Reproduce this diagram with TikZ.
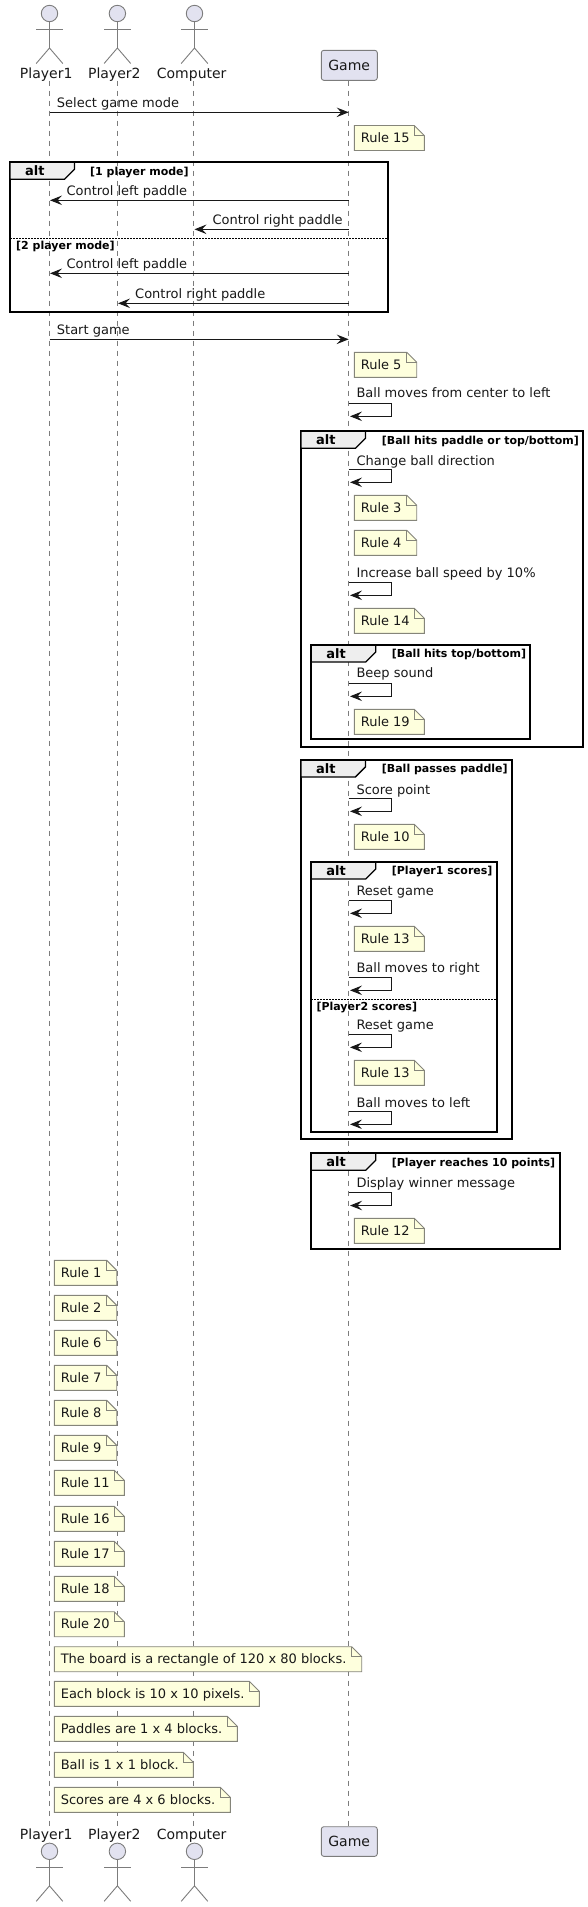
\documentclass[tikz,border=0pt]{standalone}
\usepackage{fontspec}
\setmainfont{DejaVu Sans}
\usetikzlibrary{arrows.meta}
\definecolor{ink}{HTML}{181818}
\definecolor{thinline}{HTML}{7C7C7C}
\definecolor{notefill}{HTML}{FEFFDD}
\definecolor{notedge}{HTML}{85857A}
\definecolor{partfill}{HTML}{E2E2F0}
\definecolor{tabfill}{HTML}{EEEEEE}
\tikzset{
  lifeline/.style={draw=thinline,line width=0.8pt,dash pattern=on 5pt off 5pt},
  msgline/.style={draw=ink,line width=1pt,-{Stealth[length=12pt,width=9.5pt,inset=4.5pt,color=ink]}},
  msgtext/.style={anchor=base west,inner sep=0pt,text=ink,font=\fontsize{13}{15}\selectfont},
  notetext/.style={anchor=base west,inner sep=0pt,text=ink,font=\fontsize{13}{15}\selectfont},
  noteshape/.style={draw=notedge,line width=0.9pt,fill=notefill},
  foldline/.style={draw=notedge,line width=0.9pt},
  actorline/.style={draw=thinline,line width=0.9pt},
  actorhead/.style={draw=thinline,line width=0.9pt,fill=partfill},
  actorname/.style={anchor=base,inner sep=0pt,text=ink,font=\fontsize{14}{16}\selectfont},
  partbox/.style={draw=thinline,line width=0.9pt,fill=partfill,rounded corners=2.5pt},
  framebox/.style={draw=black,line width=1.8pt},
  tabshape/.style={draw=black,line width=1.3pt,fill=tabfill},
  dividerline/.style={draw=black,line width=1pt,dash pattern=on 1.5pt off 1.5pt},
  alttext/.style={anchor=base,inner sep=0pt,text=black,font=\bfseries\fontsize{13}{15}\selectfont},
  guardtext/.style={anchor=base west,inner sep=0pt,text=black,font=\bfseries\fontsize{11}{13}\selectfont},
}
\newcommand\msgarrow[6]{%
  \coordinate (#1s) at (#2,#4);
  \coordinate (#1e) at (#3,#4);
  \draw[msgline] (#1s) -- (#1e);
  \node[msgtext,name=#1t] at (#5,#4-4.8) {#6};
}
% name, top y, text baseline y, text
\newcommand\selfmsg[4]{%
  \coordinate (#1s) at (348.7,#2);
  \coordinate (#1e) at (350,#2+13);
  \draw[msgline] (#1s) -- (391.3,#2) -- (391.3,#2+13) -- (#1e);
  \node[msgtext,name=#1t] at (356.3,#3) {#4};
}
\newcommand\rulenote[5]{%
  \draw[noteshape] (#2,#3) -- (#4-10,#3) -- (#4,#3+10) -- (#4,#3+25) -- (#2,#3+25) -- cycle;
  \draw[foldline] (#4-10,#3) -- (#4-10,#3+10) -- (#4,#3+10);
  \node[notetext,name=#1] at (#2+6.3,#3+16.7) {#5};
}
\newcommand\altframe[7]{%
  \draw[framebox] (#2,#3) rectangle (#4,#5);
  \draw[tabshape] (#2,#3) -- (#2+64.4,#3) -- (#2+64.4,#3+7) -- (#2+54.4,#3+17) -- (#2,#3+17) -- cycle;
  \draw[framebox] (#2,#3) -- (#2+64.4,#3);
  \node[alttext,name=#1a] at (#2+24.8,#3+13.4) {alt};
  \node[guardtext,name=#1g] at (#6,#3+12.7) {#7};
}
\newcommand\actorfig[4]{%
  \draw[actorhead] (#2,#3) circle (8.2pt);
  \draw[actorline] (#2,#3+8.2) -- (#2,#3+34.5);
  \draw[actorline] (#2-13.3,#3+15.7) -- (#2+13.3,#3+15.7);
  \draw[actorline] (#2-13.3,#3+50) -- (#2,#3+34.5) -- (#2+13.3,#3+50);
  \coordinate (#1) at (#4,#3);
}
\begin{document}
\begin{tikzpicture}[x=1pt,y=-1pt]
\useasboundingbox (0,0) rectangle (587,1907);
% lifelines
\coordinate (LaT) at (49.5,80.5); \coordinate (LaB) at (49.5,1826);
\coordinate (LbT) at (117.4,80.5); \coordinate (LbB) at (117.4,1826);
\coordinate (LcT) at (193.5,80.5); \coordinate (LcB) at (193.5,1826);
\coordinate (LgT) at (348.7,80.5); \coordinate (LgB) at (348.7,1826);
\draw[lifeline] (LaT) -- (LaB);
\draw[lifeline] (LbT) -- (LbB);
\draw[lifeline] (LcT) -- (LcB);
\draw[lifeline] (LgT) -- (LgB);
% participants top
\actorfig{aTop}{49.5}{13.5}{49.5}
\actorfig{bTop}{117.4}{13.5}{117.4}
\actorfig{cTop}{194.5}{13.5}{194.5}
\node[actorname,name=aTopL] at (46.2,78) {Player1};
\node[actorname,name=bTopL] at (114.3,78) {Player2};
\node[actorname,name=cTopL] at (191.7,78) {Computer};
\draw[partbox] (321.3,50.3) rectangle (377.3,80.3);
\node[actorname,name=gTopL] at (349.2,70) {Game};
% participants bottom
\actorfig{aBot}{49.5}{1851.3}{49.5}
\actorfig{bBot}{117.4}{1851.3}{117.4}
\actorfig{cBot}{194.5}{1851.3}{194.5}
\node[actorname,name=aBotL] at (46.2,1839) {Player1};
\node[actorname,name=bBotL] at (114.3,1839) {Player2};
\node[actorname,name=cBotL] at (191.7,1839) {Computer};
\draw[partbox] (321.3,1826.7) rectangle (377.3,1856.3);
\node[actorname,name=gBotL] at (349.2,1846.3) {Game};
% first block
\msgarrow{m1}{49.5}{348.7}{112.3}{56.7}{Select game mode}
\rulenote{n15}{354.3}{125.5}{424.3}{Rule 15}
\altframe{f1}{10}{162.3}{387.7}{311.7}{90}{[1 player mode]}
\msgarrow{m2}{348.7}{50}{200.3}{66.3}{Control left paddle}
\msgarrow{m3}{348.7}{194.5}{229.3}{212.3}{Control right paddle}
\draw[dividerline] (10,238.3) -- (387.7,238.3);
\node[guardtext,name=f1h] at (16,249) {[2 player mode]};
\msgarrow{m4}{348.7}{50}{273.3}{66.3}{Control left paddle}
\msgarrow{m5}{348.7}{118}{303.3}{135}{Control right paddle}
\msgarrow{m6}{49.5}{348.7}{339.3}{56.7}{Start game}
\rulenote{n5}{354.3}{352.3}{416.7}{Rule 5}
\selfmsg{s1}{403.3}{397.6}{Ball moves from center to left}
% ball hits
\altframe{f2}{301}{431.3}{582.7}{746.7}{381.7}{[Ball hits paddle or top/bottom]}
\selfmsg{s2}{469.3}{465}{Change ball direction}
\rulenote{n3}{354.3}{495.3}{416.7}{Rule 3}
\rulenote{n4}{354.3}{530.3}{416.7}{Rule 4}
\selfmsg{s3}{582.3}{577}{Increase ball speed by 10\%}
\rulenote{n14}{354.3}{608.3}{424.3}{Rule 14}
\altframe{f3}{311.3}{645}{529.7}{739.3}{391.7}{[Ball hits top/bottom]}
\selfmsg{s4}{683.3}{677.6}{Beep sound}
\rulenote{n19}{354.3}{709.3}{424.3}{Rule 19}
% ball passes
\altframe{f4}{301}{760}{511.7}{1139.3}{381.7}{[Ball passes paddle]}
\selfmsg{s5}{798.3}{794}{Score point}
\rulenote{n10}{354.3}{824.3}{424.3}{Rule 10}
\altframe{f5}{311.3}{862}{496.7}{1132.3}{391.7}{[Player1 scores]}
\selfmsg{s6}{900.3}{895}{Reset game}
\rulenote{n13a}{354.3}{926.3}{424.3}{Rule 13}
\selfmsg{s7}{977.3}{972}{Ball moves to right}
\draw[dividerline] (311.3,999.3) -- (496.7,999.3);
\node[guardtext,name=f5h] at (316.3,1010) {[Player2 scores]};
\selfmsg{s8}{1034.3}{1029}{Reset game}
\rulenote{n13b}{354.3}{1060.3}{424.3}{Rule 13}
\selfmsg{s9}{1111.3}{1107}{Ball moves to left}
% winner
\altframe{f6}{311.3}{1153.3}{559.7}{1248.7}{391.7}{[Player reaches 10 points]}
\selfmsg{s10}{1192.5}{1187}{Display winner message}
\rulenote{n12}{354.3}{1218.3}{424.3}{Rule 12}
% left notes
\rulenote{l1}{54.3}{1260.3}{116.7}{Rule 1}
\rulenote{l2}{54.3}{1295.3}{116.7}{Rule 2}
\rulenote{l6}{54.3}{1330.3}{116.7}{Rule 6}
\rulenote{l7}{54.3}{1365.3}{116.7}{Rule 7}
\rulenote{l8}{54.3}{1400.3}{116.7}{Rule 8}
\rulenote{l9}{54.3}{1435.3}{116.7}{Rule 9}
\rulenote{l11}{54.3}{1470.3}{124.3}{Rule 11}
\rulenote{l16}{54.3}{1506.3}{124.3}{Rule 16}
\rulenote{l17}{54.3}{1541.3}{124.3}{Rule 17}
\rulenote{l18}{54.3}{1576.3}{124.3}{Rule 18}
\rulenote{l20}{54.3}{1611.7}{124.3}{Rule 20}
\rulenote{t1}{54.3}{1646.7}{361.7}{The board is a rectangle of 120 x 80 blocks.}
\rulenote{t2}{54.3}{1681.3}{259.3}{Each block is 10 x 10 pixels.}
\rulenote{t3}{54.3}{1716.3}{237.3}{Paddles are 1 x 4 blocks.}
\rulenote{t4}{54.3}{1752.3}{193.3}{Ball is 1 x 1 block.}
\rulenote{t5}{54.3}{1787.3}{230.3}{Scores are 4 x 6 blocks.}
\end{tikzpicture}
\end{document}
